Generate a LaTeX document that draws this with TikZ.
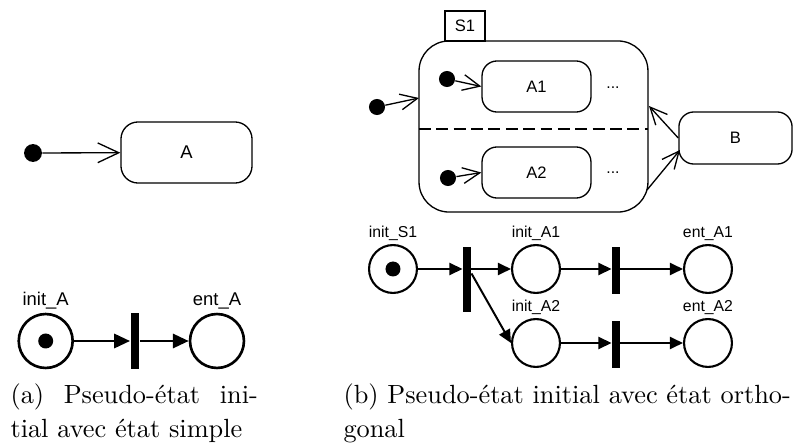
\documentclass[tikz,border=0pt]{standalone}
\usepackage{fontspec}
\usepackage{tikz}
\usetikzlibrary{arrows.meta, positioning, calc}
\newfontfamily\lblfont{Liberation Sans}

\begin{document}
\begin{tikzpicture}[x=0.38pt, y=-0.38pt,
    stbox/.style={draw, line width=0.5pt, inner sep=0pt, font=\lblfont\fontsize{6.3}{7}\selectfont},
    initdot/.style={circle, fill=black, inner sep=0pt, minimum size=6.1pt},
    barb/.style={-{Straight Barb[length=6.5pt,width=6pt]}, line width=0.5pt},
    placenode/.style={circle, draw, line width=0.8pt, minimum size=18.2pt, inner sep=0pt},
    marked/.style={path picture={\fill (path picture bounding box.center) circle (2.85pt);}},
    trans/.style={fill=black, inner sep=0pt, minimum width=3pt},
    parc/.style={-{Triangle[length=5pt,width=4.6pt]}, line width=0.75pt},
    lbl/.style={font=\lblfont\fontsize{6}{7}\selectfont, inner sep=1pt},
    caption/.style={anchor=base west, align=justify, inner sep=0pt, font=\fontsize{10}{12.6}\selectfont},
]
    \useasboundingbox (0,0) rectangle (795,445);

    % (a) initial pseudo-state with a simple state
    \node[initdot, minimum size=6.8pt] (dotA) at (33,153) {};
    \node[stbox, minimum width=49.8pt, minimum height=23.2pt, rounded corners=6.5pt,
          font=\lblfont\fontsize{7}{8}\selectfont] (A) at (186.5,152.5) {A};
    \draw[barb, -{Straight Barb[length=8pt,width=7.5pt]}] (dotA) -- (A);

    % (a) translated net
    \node[placenode, marked, minimum size=20.5pt, line width=1pt,
          label={[lbl, font=\lblfont\fontsize{7}{8}\selectfont]above:init\_A}] (initA) at (45.7,341) {};
    \node[trans, minimum width=3.4pt, minimum height=21.3pt] (tA) at (135,341) {};
    \node[placenode, minimum size=20.5pt, line width=1pt,
          label={[lbl, font=\lblfont\fontsize{7}{8}\selectfont]above:ent\_A}] (entA) at (217,341) {};
    \draw[parc, line width=0.9pt, -{Triangle[length=6pt,width=5.4pt]}] (initA) -- (tA);
    \draw[parc, line width=0.9pt, -{Triangle[length=6pt,width=5.4pt]}] (tA) -- (entA);

    % (b) orthogonal state S1 with two regions
    \node[stbox, minimum width=87pt, minimum height=65pt, rounded corners=11.4pt] (S1) at (533.5,126.5) {};
    \node[stbox, minimum width=15.2pt, minimum height=11.4pt] (S1tab) at (465,26) {S1};
    \coordinate (sepL) at (419,129);
    \coordinate (sepR) at (648,129);
    \draw[dash pattern=on 4.5pt off 2.1pt, line width=0.5pt] (sepL) -- (sepR);

    \node[stbox, minimum width=41.4pt, minimum height=19.4pt, rounded corners=5.7pt] (A1) at (536.5,86.5) {A1};
    \node[stbox, minimum width=41.4pt, minimum height=19.4pt, rounded corners=5.7pt] (A2) at (536.5,172.5) {A2};
    \node[stbox, minimum width=43pt, minimum height=19.8pt, rounded corners=5.7pt] (B) at (735.5,138) {B};
    \node[lbl] (moreA1) at (613,88) {...};
    \node[lbl] (moreA2) at (613,173) {...};

    \node[initdot] (dotS1) at (377,107) {};
    \node[initdot] (dotA1) at (447,79) {};
    \node[initdot] (dotA2) at (448,178) {};

    \coordinate (s1in) at (419,98);
    \coordinate (s1back) at (649,106);
    \coordinate (s1out) at (647,190);
    \coordinate (bin) at (680,150);
    \draw[barb] (dotS1) -- (s1in);
    \draw[barb] (dotA1) -- (A1.west);
    \draw[barb] (dotA2) -- (A2.west);
    \draw[barb] (B.west) -- (s1back);
    \draw[barb] (s1out) -- (bin);

    % (b) translated net
    \node[placenode, marked, label={[lbl]above:init\_S1}] (initS1) at (393,269) {};
    \node[trans, minimum height=24.7pt] (t1) at (467,279.5) {};
    \node[placenode, label={[lbl]above:init\_A1}] (initA1) at (536,269) {};
    \node[trans, minimum height=17.9pt] (t2) at (616,270.5) {};
    \node[placenode, label={[lbl]above:ent\_A1}] (entA1) at (708,269) {};
    \node[placenode, label={[lbl]above:init\_A2}] (initA2) at (536,343) {};
    \node[trans, minimum height=17.9pt] (t3) at (616,344.5) {};
    \node[placenode, label={[lbl]above:ent\_A2}] (entA2) at (708,343) {};

    \draw[parc] (initS1) -- (initS1 -| t1.west);
    \draw[parc] (t1.east |- initA1) -- (initA1);
    \draw[parc] ([yshift=2.3pt]t1.east) -- (initA2.west);
    \draw[parc] (initA1) -- (initA1 -| t2.west);
    \draw[parc] (t2.east |- entA1) -- (entA1);
    \draw[parc] (initA2) -- (initA2 -| t3.west);
    \draw[parc] (t3.east |- entA2) -- (entA2);

    % captions
    \node[caption, text width=94pt] (capA) at (10,404)
        {\tolerance=10000 (a) Pseudo-état ini-\linebreak tial avec état simple};
    \node[caption, text width=170pt] (capB) at (343,404)
        {\tolerance=10000 (b) Pseudo-état initial avec état ortho-\linebreak gonal};
\end{tikzpicture}
\end{document}
